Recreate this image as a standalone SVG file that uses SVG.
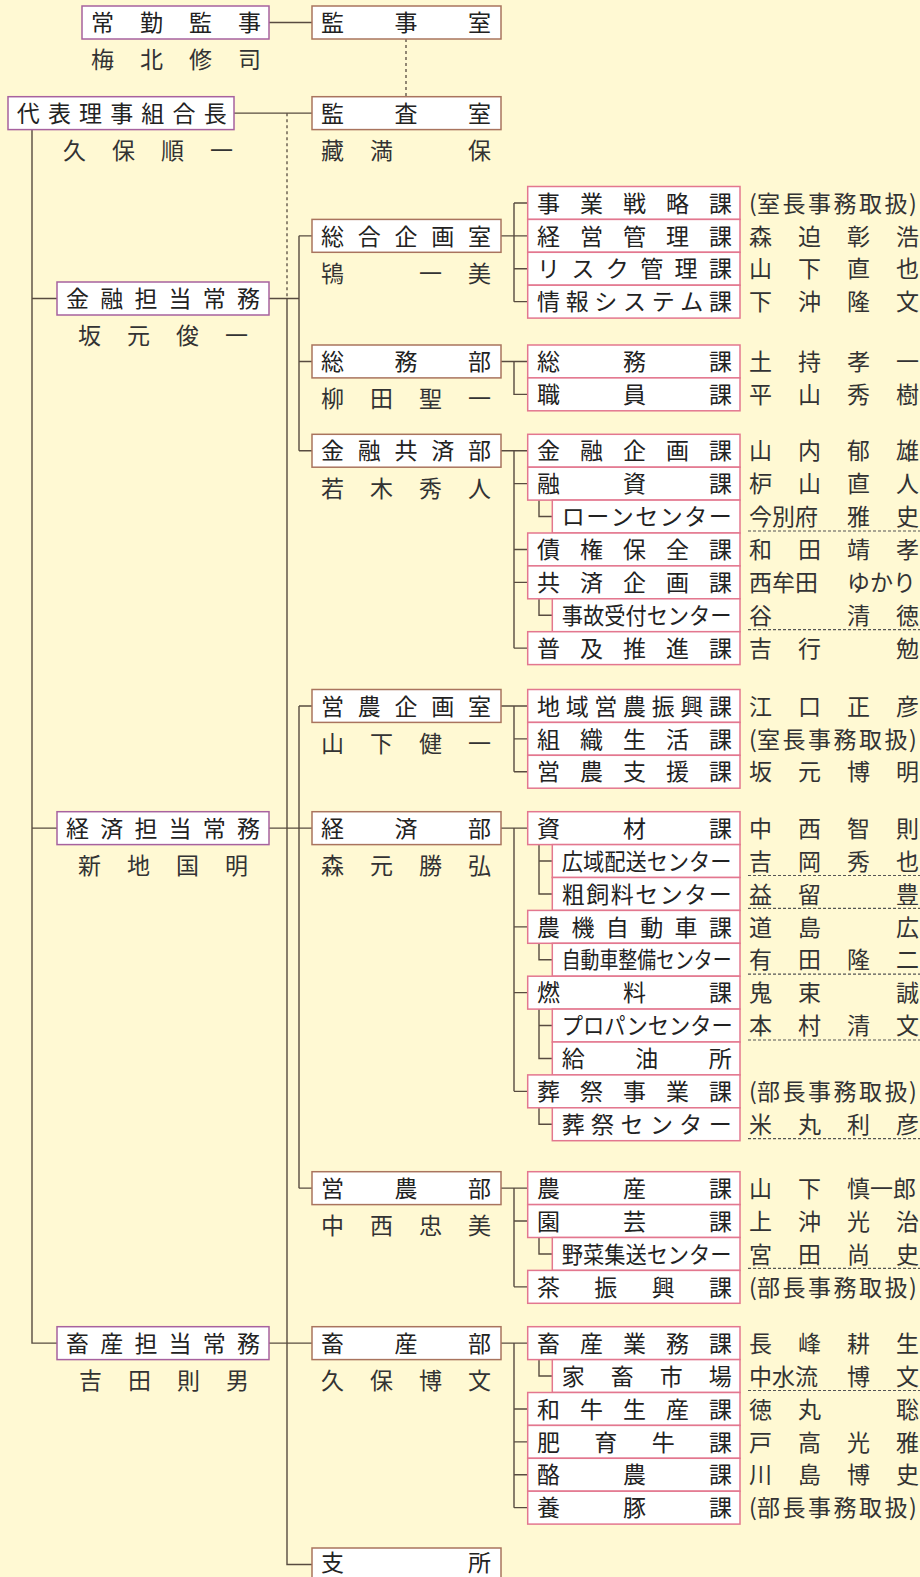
<svg xmlns="http://www.w3.org/2000/svg" width="920" height="1577" viewBox="0 0 920 1577">
<style>
.t{font-family:"Noto Sans CJK JP","Noto Sans CJK SC",sans-serif;font-size:23px;fill:#222}
.n{font-family:"Noto Sans CJK JP","Noto Sans CJK SC",sans-serif;font-size:23px;fill:#333}
.b1{fill:#fff;stroke:#a7629f;stroke-width:1.5}
.b2{fill:#fff;stroke:#a9745e;stroke-width:1.5}
.b3{fill:#fff;stroke:#e3778f;stroke-width:1.5}
.ln{fill:none;stroke:#584c40;stroke-width:1.4}
.dl{fill:none;stroke:#584c40;stroke-width:1.3;stroke-dasharray:3 3}
.ul{fill:none;stroke:#555;stroke-width:1.2;stroke-dasharray:3 2}
</style>
<rect x="0" y="0" width="920" height="1577" fill="#fff9d3"/>

<g id="connectors">
<path class="ln" d="M269,22.5H312M234,113.15H312"/>
<path class="dl" d="M406,39V96.7M287,113.15V298.5"/>
<path class="ln" d="M287,298.5V1564.45H312"/>
<path class="ln" d="M32,129.6V1343.15H57M32,298.5H57M32,828.15H57"/>
<path class="ln" d="M269,298.5H299M299,235.85V450.75M299,235.85H312M299,361.45H312M299,450.75H312"/>
<path class="ln" d="M269,828.15H312M299,705.95V1188.15M299,705.95H312M299,1188.15H312"/>
<path class="ln" d="M269,1343.15H312"/>
<path class="ln" d="M501,235.85H527.7M514,202.95V301.65M514,202.95H527.7M514,268.75H527.7M514,301.65H527.7"/>
<path class="ln" d="M501,361.45H527.7M514,361.45V394.35H527.7"/>
<path class="ln" d="M501,450.75H527.7M514,450.75V648.15M514,483.65H527.7M514,549.45H527.7M514,582.35H527.7M514,648.15H527.7M539,500.1V516.55H552.3M539,598.8V615.25H552.3"/>
<path class="ln" d="M501,705.95H527.7M514,705.95V771.75M514,738.85H527.7M514,771.75H527.7"/>
<path class="ln" d="M501,828.15H527.7M514,828.15V1091.35M514,926.85H527.7M514,992.65H527.7M514,1091.35H527.7M539,844.6V893.95H552.3M539,861.05H552.3M539,943.3V959.75H552.3M539,1009.1V1058.45H552.3M539,1025.55H552.3M539,1107.8V1124.25H552.3"/>
<path class="ln" d="M501,1188.15H527.7M514,1188.15V1286.85M514,1221.05H527.7M514,1286.85H527.7M539,1237.5V1253.95H552.3"/>
<path class="ln" d="M501,1343.15H527.7M514,1343.15V1507.65M514,1408.95H527.7M514,1441.85H527.7M514,1474.75H527.7M514,1507.65H527.7M539,1359.6V1376.05H552.3"/>
<path class="ul" d="M748,531H920M748,629.7H920M748,875.5H920M748,908.4H920M748,974.2H920M748,1040H920M748,1138.7H920M748,1268.4H920M748,1390.5H920"/>
</g>

<g id="jokin">
<rect class="b1" x="82" y="6" width="187" height="33"/>
<text class="t" x="91 140 189 238" y="31.2">常勤監事</text>
<text class="n" x="91 140 189 238" y="68.2">梅北修司</text>
</g>
<g id="daihyo">
<rect class="b1" x="8" y="96.7" width="226" height="32.9"/>
<text class="t" x="16.7 47.9 79 110.2 141.3 172.5 203.7" y="121.85">代表理事組合長</text>
<text class="n" x="63 112 161 210" y="159.2">久保順一</text>
</g>
<g id="kinyu-jomu">
<rect class="b1" x="57" y="282" width="212" height="33"/>
<text class="t" x="66 100.2 134.4 168.6 202.8 237" y="307.2">金融担当常務</text>
<text class="n" x="78 127 176 225" y="344.4">坂元俊一</text>
</g>
<g id="keizai-jomu">
<rect class="b1" x="57" y="811.7" width="212" height="32.9"/>
<text class="t" x="66 100.2 134.4 168.6 202.8 237" y="836.85">経済担当常務</text>
<text class="n" x="78 127 176 225" y="874">新地国明</text>
</g>
<g id="chikusan-jomu">
<rect class="b1" x="57" y="1326.7" width="212" height="32.9"/>
<text class="t" x="66 100.2 134.4 168.6 202.8 237" y="1351.85">畜産担当常務</text>
<text class="n" x="79 128 177 226" y="1389">吉田則男</text>
</g>

<g id="kanjishitsu">
<rect class="b2" x="312" y="6" width="189" height="33"/>
<text class="t" x="321 394.5 468" y="31.2">監事室</text>
</g>
<g id="kansashitsu">
<rect class="b2" x="312" y="96.7" width="189" height="32.9"/>
<text class="t" x="321 394.5 468" y="121.85">監査室</text>
<text class="n" x="321 370 468" y="159">藏満保</text>
</g>
<g id="sogokikaku">
<rect class="b2" x="312" y="219.4" width="189" height="32.9"/>
<text class="t" x="321 357.75 394.5 431.25 468" y="244.55">総合企画室</text>
<text class="n" x="321 419 468" y="281.7">鴇一美</text>
</g>
<g id="somubu">
<rect class="b2" x="312" y="345" width="189" height="32.9"/>
<text class="t" x="321 394.5 468" y="370.15">総務部</text>
<text class="n" x="321 370 419 468" y="407.3">柳田聖一</text>
</g>
<g id="kinyukyosaibu">
<rect class="b2" x="312" y="434.3" width="189" height="32.9"/>
<text class="t" x="321 357.75 394.5 431.25 468" y="459.45">金融共済部</text>
<text class="n" x="321 370 419 468" y="496.6">若木秀人</text>
</g>
<g id="einokikaku">
<rect class="b2" x="312" y="689.5" width="189" height="32.9"/>
<text class="t" x="321 357.75 394.5 431.25 468" y="714.65">営農企画室</text>
<text class="n" x="321 370 419 468" y="751.8">山下健一</text>
</g>
<g id="keizaibu">
<rect class="b2" x="312" y="811.7" width="189" height="32.9"/>
<text class="t" x="321 394.5 468" y="836.85">経済部</text>
<text class="n" x="321 370 419 468" y="874">森元勝弘</text>
</g>
<g id="einobu">
<rect class="b2" x="312" y="1171.7" width="189" height="32.9"/>
<text class="t" x="321 394.5 468" y="1196.85">営農部</text>
<text class="n" x="321 370 419 468" y="1234">中西忠美</text>
</g>
<g id="chikusanbu">
<rect class="b2" x="312" y="1326.7" width="189" height="32.9"/>
<text class="t" x="321 394.5 468" y="1351.85">畜産部</text>
<text class="n" x="321 370 419 468" y="1389">久保博文</text>
</g>
<g id="shisho">
<rect class="b2" x="312" y="1548" width="189" height="32.9"/>
<text class="t" x="321 468" y="1571">支所</text>
</g>

<!-- Group A -->
<g id="jigyosenryaku"><rect class="b3" x="527.7" y="186.5" width="212.3" height="32.9"/>
<text class="t" x="537 580 623 666 709" y="211.65">事業戦略課</text>
<text class="n" x="749 757 782.5 808 833.5 859 884.5 909" y="211.65">(室長事務取扱)</text></g>
<g id="keieikanri"><rect class="b3" x="527.7" y="219.4" width="212.3" height="32.9"/>
<text class="t" x="537 580 623 666 709" y="244.55">経営管理課</text>
<text class="n" x="749 798 847 896" y="244.55">森迫彰浩</text></g>
<g id="risukukanri"><rect class="b3" x="527.7" y="252.3" width="212.3" height="32.9"/>
<text class="t" x="537 571.4 605.8 640.2 674.6 709" y="277.45">リスク管理課</text>
<text class="n" x="749 798 847 896" y="277.45">山下直也</text></g>
<g id="johosystem"><rect class="b3" x="527.7" y="285.2" width="212.3" height="32.9"/>
<text class="t" x="537 565.7 594.3 623 651.7 680.3 709" y="310.35">情報システム課</text>
<text class="n" x="749 798 847 896" y="310.35">下沖隆文</text></g>

<!-- Group B -->
<g id="somuka"><rect class="b3" x="527.7" y="345" width="212.3" height="32.9"/>
<text class="t" x="537 623 709" y="370.15">総務課</text>
<text class="n" x="749 798 847 896" y="370.15">土持孝一</text></g>
<g id="shokuinka"><rect class="b3" x="527.7" y="377.9" width="212.3" height="32.9"/>
<text class="t" x="537 623 709" y="403.05">職員課</text>
<text class="n" x="749 798 847 896" y="403.05">平山秀樹</text></g>

<!-- Group C -->
<g id="kinyukikaku"><rect class="b3" x="527.7" y="434.3" width="212.3" height="32.9"/>
<text class="t" x="537 580 623 666 709" y="459.45">金融企画課</text>
<text class="n" x="749 798 847 896" y="459.45">山内郁雄</text></g>
<g id="yushika"><rect class="b3" x="527.7" y="467.2" width="212.3" height="32.9"/>
<text class="t" x="537 623 709" y="492.35">融資課</text>
<text class="n" x="749 798 847 896" y="492.35">枦山直人</text></g>
<g id="loancenter"><rect class="b3" x="552.3" y="500.1" width="187.7" height="32.9"/>
<text class="t" x="561.7 586.2 610.7 635.2 659.7 684.2 708.7" y="525.25">ローンセンター</text>
<text class="n" x="749 772 795 847 896" y="525.25">今別府雅史</text></g>
<g id="saikenhozen"><rect class="b3" x="527.7" y="533" width="212.3" height="32.9"/>
<text class="t" x="537 580 623 666 709" y="558.15">債権保全課</text>
<text class="n" x="749 798 847 896" y="558.15">和田靖孝</text></g>
<g id="kyosaikikaku"><rect class="b3" x="527.7" y="565.9" width="212.3" height="32.9"/>
<text class="t" x="537 580 623 666 709" y="591.05">共済企画課</text>
<text class="n" x="749 772 795 847 870 893" y="591.05">西牟田ゆかり</text></g>
<g id="jikouketsuke"><rect class="b3" x="552.3" y="598.8" width="187.7" height="32.9"/>
<text class="t" transform="translate(561.7,623.95) scale(0.924,1)">事故受付センター</text>
<text class="n" x="749 847 896" y="623.95">谷清徳</text></g>
<g id="fukyusuishin"><rect class="b3" x="527.7" y="631.7" width="212.3" height="32.9"/>
<text class="t" x="537 580 623 666 709" y="656.85">普及推進課</text>
<text class="n" x="749 798 896" y="656.85">吉行勉</text></g>

<!-- Group D -->
<g id="chiikieino"><rect class="b3" x="527.7" y="689.5" width="212.3" height="32.9"/>
<text class="t" x="537 565.7 594.3 623 651.7 680.3 709" y="714.65">地域営農振興課</text>
<text class="n" x="749 798 847 896" y="714.65">江口正彦</text></g>
<g id="soshikiseikatsu"><rect class="b3" x="527.7" y="722.4" width="212.3" height="32.9"/>
<text class="t" x="537 580 623 666 709" y="747.55">組織生活課</text>
<text class="n" x="749 757 782.5 808 833.5 859 884.5 909" y="747.55">(室長事務取扱)</text></g>
<g id="einoshien"><rect class="b3" x="527.7" y="755.3" width="212.3" height="32.9"/>
<text class="t" x="537 580 623 666 709" y="780.45">営農支援課</text>
<text class="n" x="749 798 847 896" y="780.45">坂元博明</text></g>

<!-- Group E -->
<g id="shizaika"><rect class="b3" x="527.7" y="811.7" width="212.3" height="32.9"/>
<text class="t" x="537 623 709" y="836.85">資材課</text>
<text class="n" x="749 798 847 896" y="836.85">中西智則</text></g>
<g id="koikihaiso"><rect class="b3" x="552.3" y="844.6" width="187.7" height="32.9"/>
<text class="t" transform="translate(561.7,869.75) scale(0.924,1)">広域配送センター</text>
<text class="n" x="749 798 847 896" y="869.75">吉岡秀也</text></g>
<g id="soshiryo"><rect class="b3" x="552.3" y="877.5" width="187.7" height="32.9"/>
<text class="t" x="561.7 586.2 610.7 635.2 659.7 684.2 708.7" y="902.65">粗飼料センター</text>
<text class="n" x="749 798 896" y="902.65">益留豊</text></g>
<g id="nokijidosha"><rect class="b3" x="527.7" y="910.4" width="212.3" height="32.9"/>
<text class="t" x="537 571.4 605.8 640.2 674.6 709" y="935.55">農機自動車課</text>
<text class="n" x="749 798 896" y="935.55">道島広</text></g>
<g id="jidoshaseibi"><rect class="b3" x="552.3" y="943.3" width="187.7" height="32.9"/>
<text class="t" transform="translate(561.7,968.45) scale(0.821,1)">自動車整備センター</text>
<text class="n" x="749 798 847 896" y="968.45">有田隆二</text></g>
<g id="nenryoka"><rect class="b3" x="527.7" y="976.2" width="212.3" height="32.9"/>
<text class="t" x="537 623 709" y="1001.35">燃料課</text>
<text class="n" x="749 798 896" y="1001.35">鬼束誠</text></g>
<g id="propane"><rect class="b3" x="552.3" y="1009.1" width="187.7" height="32.9"/>
<text class="t" transform="translate(561.7,1034.25) scale(0.924,1)">プロパンセンター</text>
<text class="n" x="749 798 847 896" y="1034.25">本村清文</text></g>
<g id="kyuyusho"><rect class="b3" x="552.3" y="1042" width="187.7" height="32.9"/>
<text class="t" x="561.7 635.2 708.7" y="1067.15">給油所</text></g>
<g id="sosaijigyo"><rect class="b3" x="527.7" y="1074.9" width="212.3" height="32.9"/>
<text class="t" x="537 580 623 666 709" y="1100.05">葬祭事業課</text>
<text class="n" x="749 757 782.5 808 833.5 859 884.5 909" y="1100.05">(部長事務取扱)</text></g>
<g id="sosaicenter"><rect class="b3" x="552.3" y="1107.8" width="187.7" height="32.9"/>
<text class="t" x="561.7 591.1 620.5 649.9 679.3 708.7" y="1132.95">葬祭センター</text>
<text class="n" x="749 798 847 896" y="1132.95">米丸利彦</text></g>

<!-- Group F -->
<g id="nosanka"><rect class="b3" x="527.7" y="1171.7" width="212.3" height="32.9"/>
<text class="t" x="537 623 709" y="1196.85">農産課</text>
<text class="n" x="749 798 847 870 893" y="1196.85">山下慎一郎</text></g>
<g id="engeika"><rect class="b3" x="527.7" y="1204.6" width="212.3" height="32.9"/>
<text class="t" x="537 623 709" y="1229.75">園芸課</text>
<text class="n" x="749 798 847 896" y="1229.75">上沖光治</text></g>
<g id="yasaishuso"><rect class="b3" x="552.3" y="1237.5" width="187.7" height="32.9"/>
<text class="t" transform="translate(561.7,1262.65) scale(0.924,1)">野菜集送センター</text>
<text class="n" x="749 798 847 896" y="1262.65">宮田尚史</text></g>
<g id="chashinko"><rect class="b3" x="527.7" y="1270.4" width="212.3" height="32.9"/>
<text class="t" x="537 594.3 651.7 709" y="1295.55">茶振興課</text>
<text class="n" x="749 757 782.5 808 833.5 859 884.5 909" y="1295.55">(部長事務取扱)</text></g>

<!-- Group G -->
<g id="chikusangyomu"><rect class="b3" x="527.7" y="1326.7" width="212.3" height="32.9"/>
<text class="t" x="537 580 623 666 709" y="1351.85">畜産業務課</text>
<text class="n" x="749 798 847 896" y="1351.85">長峰耕生</text></g>
<g id="kachikuichiba"><rect class="b3" x="552.3" y="1359.6" width="187.7" height="32.9"/>
<text class="t" x="561.7 610.7 659.7 708.7" y="1384.75">家畜市場</text>
<text class="n" x="749 772 795 847 896" y="1384.75">中水流博文</text></g>
<g id="wagyuseisan"><rect class="b3" x="527.7" y="1392.5" width="212.3" height="32.9"/>
<text class="t" x="537 580 623 666 709" y="1417.65">和牛生産課</text>
<text class="n" x="749 798 896" y="1417.65">徳丸聡</text></g>
<g id="hiikugyu"><rect class="b3" x="527.7" y="1425.4" width="212.3" height="32.9"/>
<text class="t" x="537 594.3 651.7 709" y="1450.55">肥育牛課</text>
<text class="n" x="749 798 847 896" y="1450.55">戸高光雅</text></g>
<g id="rakunoka"><rect class="b3" x="527.7" y="1458.3" width="212.3" height="32.9"/>
<text class="t" x="537 623 709" y="1483.45">酪農課</text>
<text class="n" x="749 798 847 896" y="1483.45">川島博史</text></g>
<g id="yotonka"><rect class="b3" x="527.7" y="1491.2" width="212.3" height="32.9"/>
<text class="t" x="537 623 709" y="1516.35">養豚課</text>
<text class="n" x="749 757 782.5 808 833.5 859 884.5 909" y="1516.35">(部長事務取扱)</text></g>
</svg>
